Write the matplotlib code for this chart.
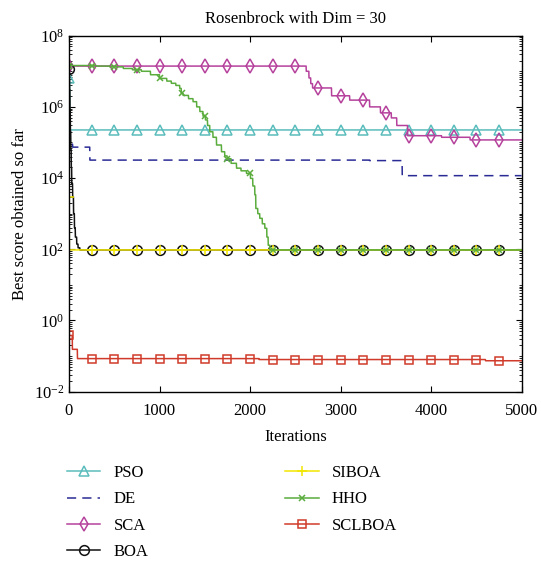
import numpy as np
import matplotlib.pyplot as plt
from matplotlib.ticker import LogLocator, NullFormatter, FixedLocator

plt.rcParams['font.family'] = 'Liberation Serif'
plt.rcParams['mathtext.fontset'] = 'custom'
plt.rcParams['mathtext.rm'] = 'Liberation Serif'
plt.rcParams['font.size'] = 12

n_iter = 5000

# breakpoints (iteration where value starts) and values
pso_it = [0, 8]
pso_val = [6.3e6, 2.25e5]

de_it = [0, 10, 40, 230, 3320, 3680]
de_val = [2.0e5, 9.0e4, 7.4e4, 3.2e4, 3.1e4, 1.17e4]

sca_it = [0, 2620, 2650, 2670, 2690, 2900, 3100, 3320, 3440, 3560, 3620, 3740, 4115, 4430]
sca_val = [1.4e7, 1.0e7, 6.5e6, 4.5e6, 3.4e6, 2.05e6, 1.55e6, 1.0e6, 6.8e5, 4.9e5,
           3.0e5, 1.55e5, 1.4e5, 1.18e5]

boa_it = [0, 5, 10, 15, 20, 25, 30, 40, 50, 60, 70, 85, 100, 120]
boa_val = [1.15e7, 3e6, 8e5, 2e5, 6e4, 2e4, 7e3, 3e3, 1e3, 400, 220, 140, 110, 96]

siboa_it = [0, 3]
siboa_val = [3.0e3, 96]

hho_it = [0, 300, 450, 600, 700, 800, 900, 1000, 1080, 1130, 1180, 1223, 1240, 1260,
          1320, 1370, 1410, 1445, 1480, 1507, 1530, 1555, 1590, 1629, 1684, 1720, 1747,
          1790, 1850, 1900, 1960, 2004, 2030, 2052, 2063, 2085, 2107, 2135, 2163, 2185,
          2200, 2218]
hho_val = [1.45e7, 1.4e7, 1.33e7, 1.2e7, 1.1e7, 1.0e7, 8e6, 6.3e6, 5.3e6, 4.6e6, 4.0e6,
           3.3e6, 2.4e6, 2.1e6, 1.7e6, 1.4e6, 1.0e6, 7.4e5, 5.5e5, 4.3e5, 3.0e5, 2.0e5,
           1.4e5, 8.5e4, 5.5e4, 4.2e4, 3.5e4, 2.6e4, 1.9e4, 1.6e4, 1.35e4, 9.8e3, 6e3,
           3.4e3, 1.4e3, 1.0e3, 7.4e2, 5.2e2, 3.9e2, 2.2e2, 1.3e2, 96]

sclboa_it = [0, 37, 93, 2100, 4600]
sclboa_val = [0.38, 0.155, 0.085, 0.08, 0.074]


def hold(its, vals):
    # step series: each value held until the next breakpoint
    lengths = np.diff(its + [n_iter])
    return np.repeat(vals, lengths)


x = np.arange(n_iter)

series = [
    ("PSO", hold(pso_it, pso_val), dict(color="#5bbcbc", marker="^", ms=7, ls="-")),
    ("DE", hold(de_it, de_val), dict(color="#2b2b96", marker=None, ls=(0, (6, 4)))),
    ("SCA", hold(sca_it, sca_val), dict(color="#b5419c", marker="d", ms=7.5, ls="-")),
    ("BOA", hold(boa_it, boa_val), dict(color="#111111", marker="o", ms=7, ls="-")),
    ("SIBOA", hold(siboa_it, siboa_val), dict(color="#f2e600", marker="+", ms=7, ls="-")),
    ("HHO", hold(hho_it, hho_val), dict(color="#5aac3c", marker="x", ms=4.5, ls="-")),
    ("SCLBOA", hold(sclboa_it, sclboa_val), dict(color="#d03a2a", marker="s", ms=5.5, ls="-")),
]

fig = plt.figure(figsize=(5.41, 5.61), dpi=100)
ax = fig.add_axes([0.1275, 0.3018, 0.9643 - 0.1275, 0.9364 - 0.3018])

for name, y, st in series:
    ax.semilogy(x, y, color=st["color"], ls=st["ls"], lw=1.1,
                marker=st["marker"], markersize=st.get("ms", 6), markevery=250,
                markerfacecolor="none", markeredgewidth=1.1, label=name)

ax.set_xlim(0, 5000)
ax.set_ylim(1e-2, 1e8)
ax.set_xticks([0, 1000, 2000, 3000, 4000, 5000])
ax.yaxis.set_major_locator(FixedLocator([1e-2, 1e0, 1e2, 1e4, 1e6, 1e8]))
ax.yaxis.set_minor_locator(LogLocator(base=10, subs=np.arange(1, 10), numticks=100))
ax.yaxis.set_minor_formatter(NullFormatter())
ax.tick_params(which="both", direction="in", top=True, right=True)
ax.tick_params(which="major", length=4, width=0.8)
ax.tick_params(which="minor", length=2, width=0.6)
ax.tick_params(axis="x", which="major", pad=8)
for sp in ax.spines.values():
    sp.set_linewidth(1.0)

ax.set_title("Rosenbrock with Dim = 30", fontsize=12, pad=9)
ax.set_xlabel("Iterations", fontsize=12, labelpad=7)
ax.set_ylabel("Best score obtained so far", fontsize=12)

ax.legend(loc="upper left", bbox_to_anchor=(0.124, 0.171), bbox_transform=fig.transFigure,
          ncol=2, frameon=False, fontsize=12, handlelength=2.0, handletextpad=0.8,
          columnspacing=8.2, labelspacing=0.62, borderpad=0, borderaxespad=0)

fig.savefig("out.png", dpi=100)
